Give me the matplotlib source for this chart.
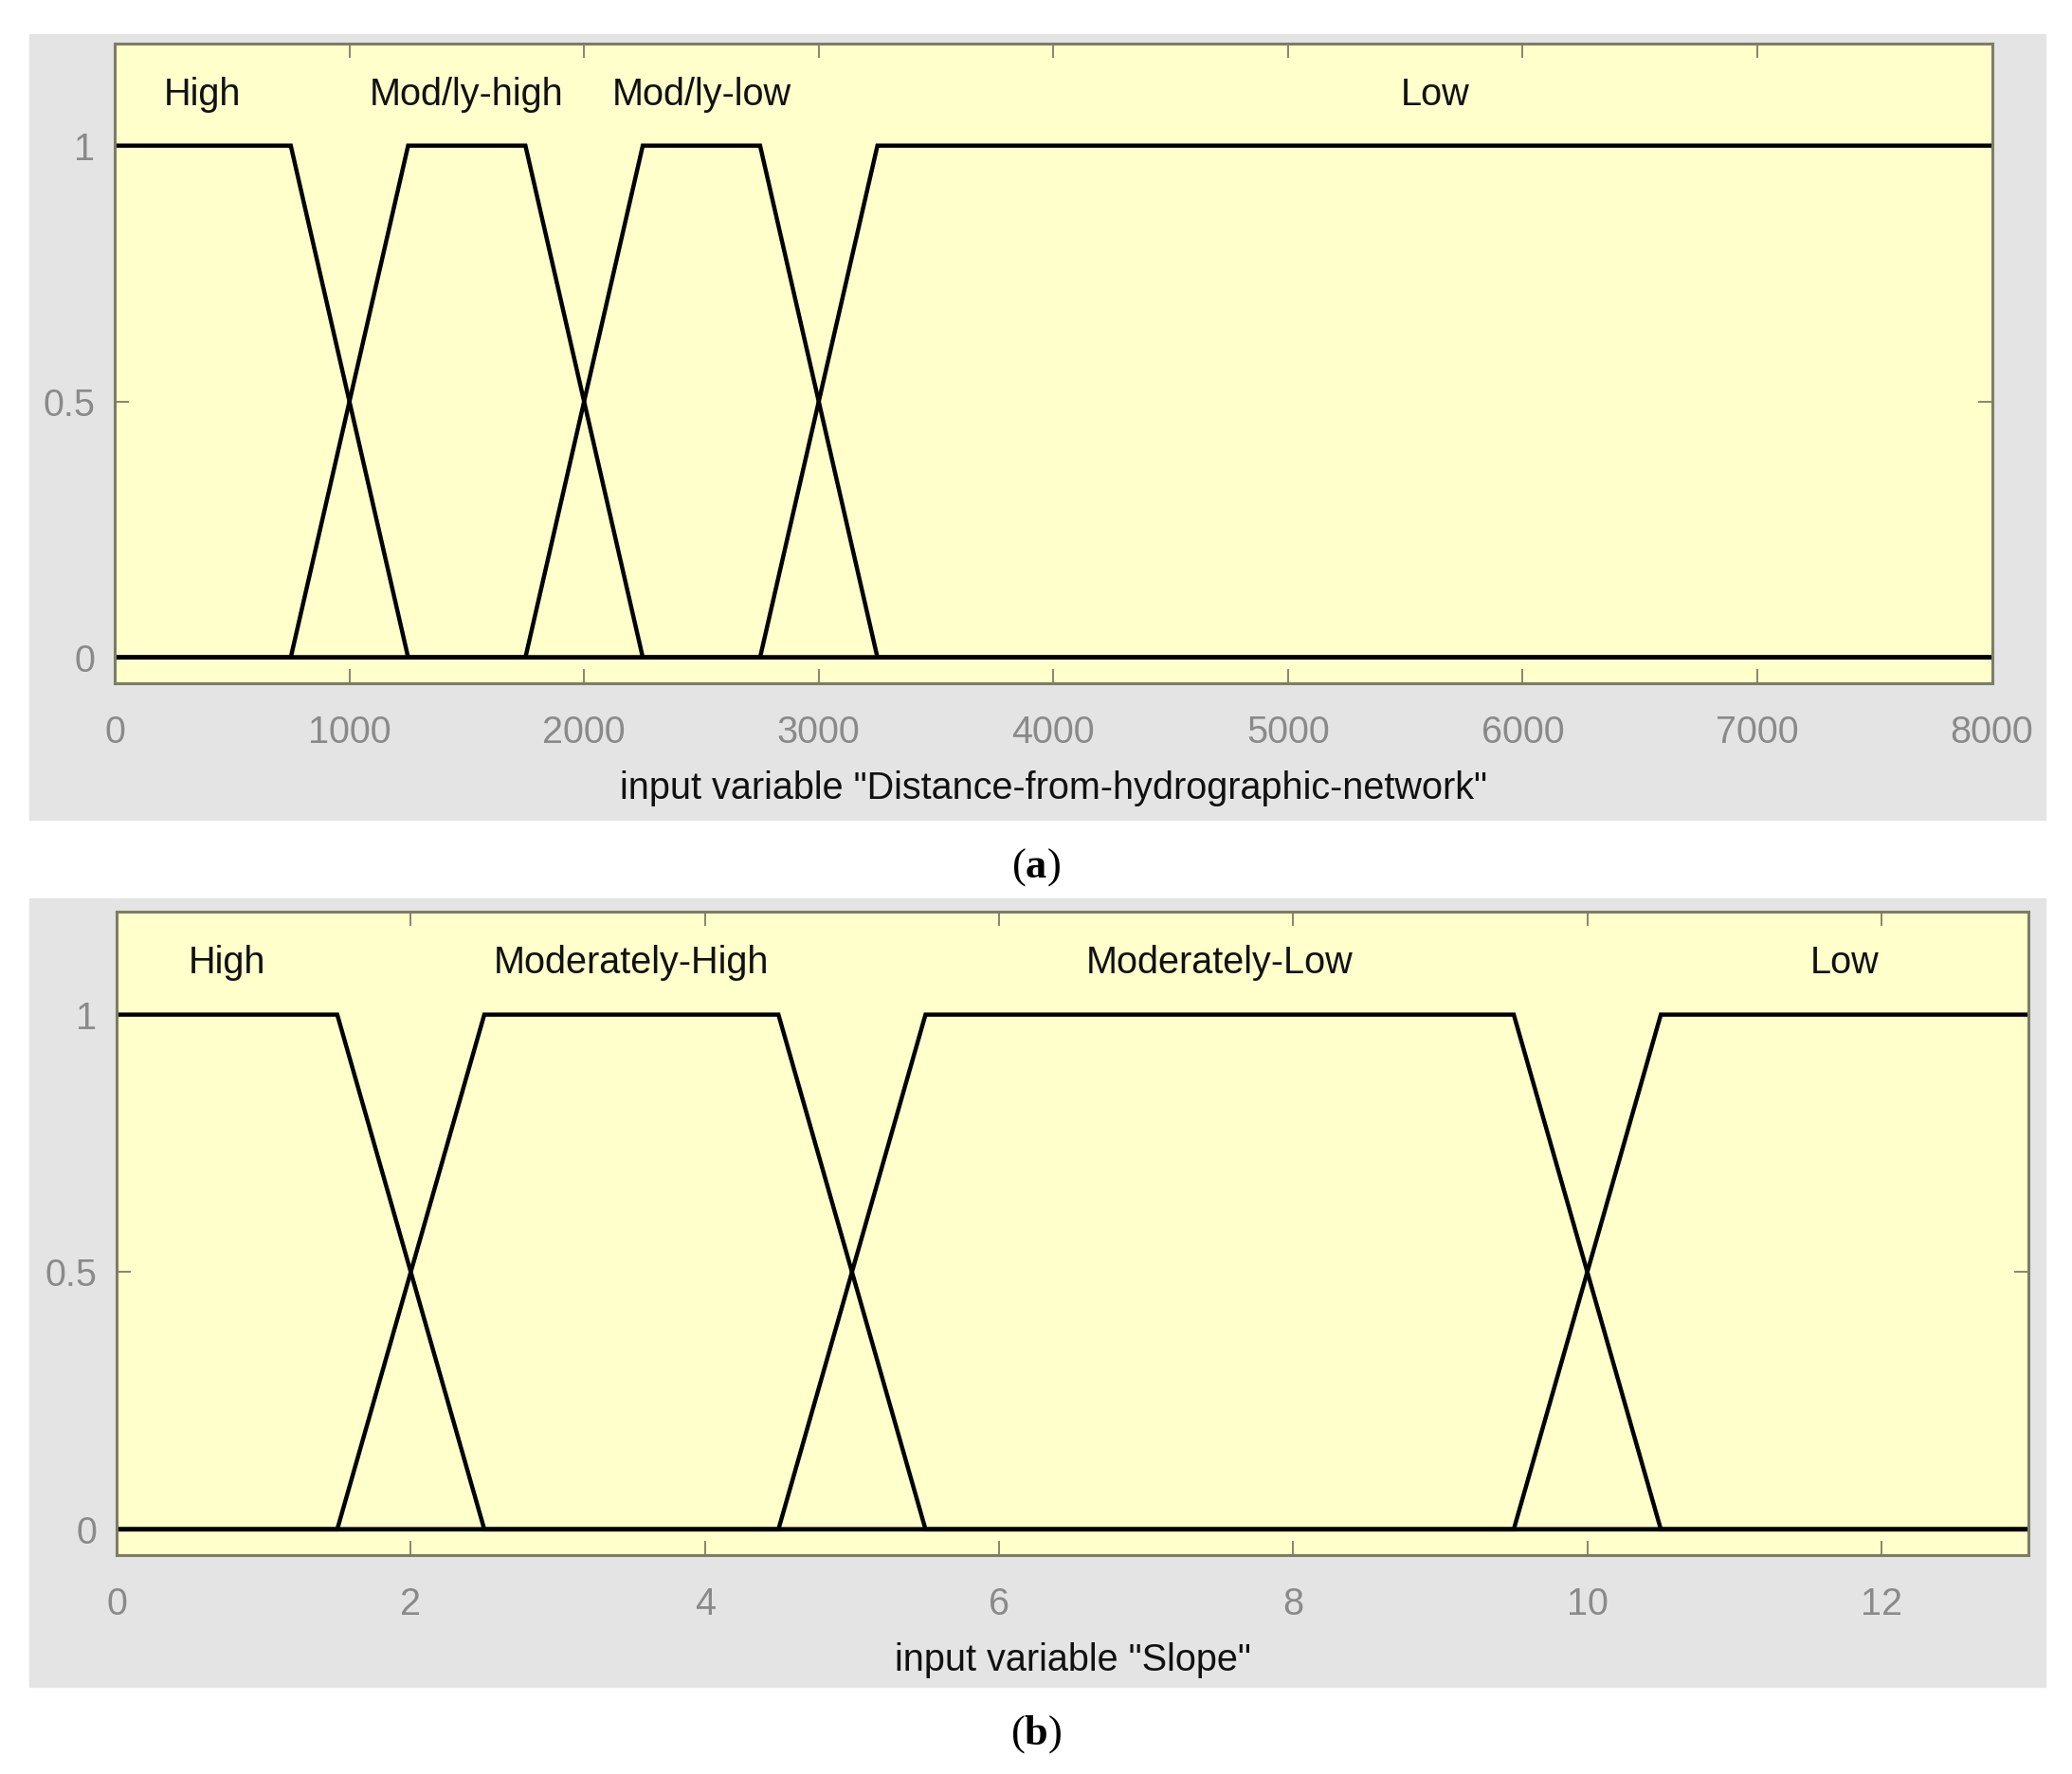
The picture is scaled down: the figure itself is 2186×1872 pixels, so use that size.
import matplotlib
matplotlib.use("Agg")
import matplotlib.pyplot as plt
from matplotlib.patches import Rectangle

plt.rcParams.update({
    "font.family": ["Liberation Sans", "DejaVu Sans"],
    "mathtext.fontset": "custom",
    "mathtext.rm": "Liberation Serif",
    "mathtext.bf": "Liberation Serif:bold",
})

# membership functions (trapezoid params a, b, c, d)
dist_names = ["High", "Mod/ly-high", "Mod/ly-low", "Low"]
dist_params = [
    [0, 0, 750, 1250],
    [750, 1250, 1750, 2250],
    [1750, 2250, 2750, 3250],
    [2750, 3250, 8000, 8000],
]
dist_range = [0, 8000]
dist_ticks = [0, 1000, 2000, 3000, 4000, 5000, 6000, 7000, 8000]

slope_names = ["High", "Moderately-High", "Moderately-Low", "Low"]
slope_params = [
    [0, 0, 1.5, 2.5],
    [1.5, 2.5, 4.5, 5.5],
    [4.5, 5.5, 9.5, 10.5],
    [9.5, 10.5, 13, 13],
]
slope_range = [0, 13]
slope_ticks = [0, 2, 4, 6, 8, 10, 12]

y_ticks = [0, 0.5, 1]
y_labels = ["0", "0.5", "1"]

FACE = "#ffffcc"
BG = "#e4e4e4"
SPINE = "#7d7d66"
TICKCOL = "#8a8a8a"
FS = 28.5


def trap_xy(p, lo, hi):
    a, b, c, d = p
    xs = [lo, a, b, c, d, hi]
    ys = [1 if a == lo and b == lo else 0, 0 if a > lo else 1, 1, 1,
          0 if d < hi else 1, 0 if d < hi else 1]
    return xs, ys


def draw_panel(ax, names, params, rng, ticks, xlabel):
    for name, p in zip(names, params):
        xs, ys = trap_xy(p, rng[0], rng[1])
        ax.plot(xs, ys, color="black", lw=3.2, solid_joinstyle="miter")
        ax.text((p[1] + p[2]) / 2, 1.1, name, ha="center", va="center",
                fontsize=FS, color="#111111")
    ax.set_xlim(rng)
    ax.set_ylim(-0.05, 1.2)
    ax.set_facecolor(FACE)
    ax.set_xticks(ticks)
    ax.set_xticklabels([str(t) for t in ticks])
    ax.set_yticks(y_ticks)
    ax.set_yticklabels(y_labels)
    ax.tick_params(direction="in", length=11, width=1.3, color=SPINE,
                   labelcolor=TICKCOL, labelsize=FS, top=True, right=True,
                   pad=15)
    ax.tick_params(axis="x", pad=24)
    for s in ax.spines.values():
        s.set_color(SPINE)
        s.set_linewidth(2.2)
    ax.set_xlabel(xlabel, fontsize=FS, color="#111111", labelpad=15)


fig = plt.figure(figsize=(21.86, 18.72), dpi=100)
fig.patch.set_facecolor("white")

fig.patches.append(Rectangle((0.0142, 0.538), 0.973, 0.443,
                             transform=fig.transFigure, color=BG, zorder=-10))
fig.patches.append(Rectangle((0.0142, 0.049), 0.973, 0.4446,
                             transform=fig.transFigure, color=BG, zorder=-10))

ax1 = fig.add_axes([0.0554, 0.615, 0.906, 0.3606])
draw_panel(ax1, dist_names, dist_params, dist_range, dist_ticks,
           'input variable "Distance-from-hydrographic-network"')

ax2 = fig.add_axes([0.0563, 0.1234, 0.9227, 0.3627])
draw_panel(ax2, slope_names, slope_params, slope_range, slope_ticks,
           'input variable "Slope"')

fig.text(0.5, 0.511, r"($\mathbf{a}$)", ha="center", va="center",
         fontsize=32, family="Liberation Serif")
fig.text(0.5, 0.0224, r"($\mathbf{b}$)", ha="center", va="center",
         fontsize=32, family="Liberation Serif")

fig.savefig("out.png", dpi=100, facecolor="white")
